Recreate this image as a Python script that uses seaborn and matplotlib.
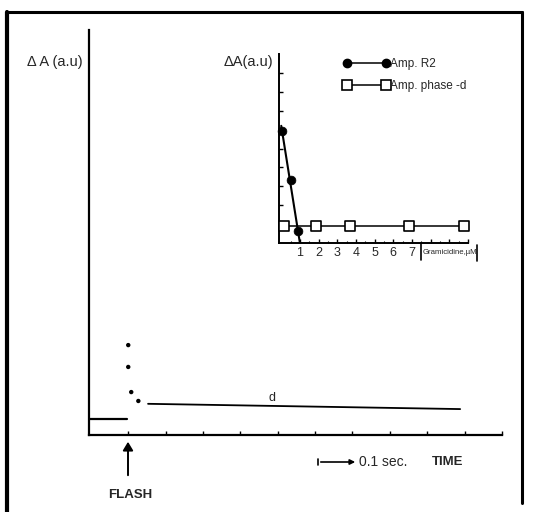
import matplotlib
matplotlib.use("Agg")
import matplotlib.pyplot as plt
import seaborn as sns
import pandas as pd
from matplotlib.lines import Line2D
from matplotlib.patches import FancyArrowPatch

sns.set_theme(style="white")
plt.rcParams['font.family'] = ['Liberation Sans', 'DejaVu Sans']

# ---- Main trace data (time in s after flash, absorbance change in a.u.) ----
base_t = [-0.105, -0.002]
base_a = [0.40, 0.40]
dots_t = [0.0, 0.0, 0.008, 0.027]
dots_a = [2.22, 1.68, 1.06, 0.84]
d_t = [0.053, 0.888]
d_a = [0.77, 0.64]
main_xticks = [0.0, 0.1, 0.2, 0.3, 0.4, 0.5, 0.6, 0.7, 0.8, 0.9, 1.0]

# ---- Inset data (gramicidine concentration, uM) ----
r2_conc = [0.05, 0.52, 0.90]
r2_amp = [5.93, 3.33, 0.63]
r2_fit_conc = [0.0, 1.0]
r2_fit_amp = [6.2, 0.0]
phd_conc = [0.15, 1.85, 3.68, 6.85, 9.8]
phd_amp = [0.9, 0.9, 0.9, 0.9, 0.9]
inset_ticklabels = ["1", "2", "3", "4", "5", "6", "7"]

W, H = 533, 512
fig = plt.figure(figsize=(W / 100, H / 100), dpi=100)

def fx(px):
    return px / W

def fy(py):
    return 1 - py / H

# frame
fig.add_artist(Line2D([fx(7), fx(522)], [fy(12), fy(12)], color="black", lw=2.2))
fig.add_artist(Line2D([fx(7), fx(7)], [fy(12), fy(512)], color="black", lw=3.0))
fig.add_artist(Line2D([fx(522), fx(522)], [fy(12), fy(503)], color="black", lw=2.2))

# ---- main axes ----
ax = fig.add_axes([fx(89), fy(435), fx(502 - 89), (435 - 30) / H])
ax.set_xlim(-0.105, 1.0)
ax.set_ylim(0, 10)
for s in ["top", "right"]:
    ax.spines[s].set_visible(False)
for s in ["left", "bottom"]:
    ax.spines[s].set_color("black")
    ax.spines[s].set_linewidth(1.6)
ax.set_yticks([])
ax.set_xticks(main_xticks)
ax.set_xticklabels([])
ax.tick_params(axis="x", direction="in", length=3, width=1, color="black", bottom=True)
ax.set_facecolor("white")

sns.lineplot(x=base_t, y=base_a, ax=ax, color="black", lw=1.6, sort=False)
sns.lineplot(x=d_t, y=d_a, ax=ax, color="black", lw=1.3, sort=False)
sns.scatterplot(x=dots_t, y=dots_a, ax=ax, color="black", s=10, edgecolor="none")
ax.text(0.385, 0.92, "d", ha="center", va="center", fontsize=9)

fig.text(fx(27), fy(62), "\u0394 A (a.u)", ha="left", va="center", fontsize=10.5)

# FLASH arrow and label
fig.add_artist(FancyArrowPatch(
    (fx(128), fy(478)), (fx(128), fy(439)), transform=fig.transFigure,
    arrowstyle="-|>,head_length=5,head_width=3", color="black", lw=1.4))
fig.text(fx(130), fy(495), "FLASH", ha="center", va="center", fontsize=9.5,
         fontweight="bold")

# scale bar
fig.add_artist(FancyArrowPatch(
    (fx(318), fy(462)), (fx(358), fy(462)), transform=fig.transFigure,
    arrowstyle="-|>,head_length=3,head_width=1.5", color="black", lw=1.2))
fig.add_artist(Line2D([fx(318), fx(318)], [fy(459), fy(465)], color="black", lw=1.2))
fig.text(fx(359), fy(462), "0.1 sec.", ha="left", va="center", fontsize=10)
fig.text(fx(432), fy(462), "TIME", ha="left", va="center", fontsize=9.5, fontweight="bold")

# ---- inset axes ----
ins = fig.add_axes([fx(279), fy(243), fx(468 - 279), (243 - 54) / H])
ins.set_xlim(-0.12, 10.0)
ins.set_ylim(0, 10)
ins.patch.set_alpha(0)
for s in ["top", "right"]:
    ins.spines[s].set_visible(False)
for s in ["left", "bottom"]:
    ins.spines[s].set_color("black")
    ins.spines[s].set_linewidth(1.4)
ins.set_yticks(list(range(1, 10)))
ins.set_yticklabels([])
ins.tick_params(axis="y", direction="in", length=3, width=1, color="black", left=True)
ins.set_xticks(list(range(1, 11)))
ins.set_xticks([i + 0.5 for i in range(0, 10)], minor=True)
ins.set_xticklabels(inset_ticklabels + [""] * 3, fontsize=9)
ins.tick_params(axis="x", which="major", direction="in", length=3, width=1,
                color="black", bottom=True, pad=3)
ins.tick_params(axis="x", which="minor", direction="in", length=1.5, width=0.8,
                color="black", bottom=True)

sns.lineplot(x=r2_fit_conc, y=r2_fit_amp, ax=ins, color="black", lw=1.5, sort=False)
sns.lineplot(x=phd_conc, y=phd_amp, ax=ins, color="black", lw=1.1, sort=False, zorder=2)
sns.scatterplot(x=r2_conc, y=r2_amp, ax=ins, color="black", s=40, edgecolor="black",
                zorder=4, clip_on=False)
sns.scatterplot(x=phd_conc, y=phd_amp, ax=ins, marker="s", s=45, facecolor="white",
                edgecolor="black", linewidth=1.2, zorder=3, clip_on=False)

# legend
h1 = Line2D([], [], color="black", lw=1.1, marker="o", markersize=6,
            markerfacecolor="black", markeredgecolor="black")
h2 = Line2D([], [], color="black", lw=1.1, marker="s", markersize=6.5,
            markerfacecolor="white", markeredgecolor="black", markeredgewidth=1.2)
leg = ins.legend([h1, h2], ["Amp. R2", "Amp. phase -d"], numpoints=2, frameon=False,
                 loc="upper left", bbox_to_anchor=((339 - 279) / (468 - 279), 1.005),
                 handlelength=3.9, handletextpad=0.05, labelspacing=0.9, fontsize=8.5,
                 borderaxespad=0)

fig.text(fx(273), fy(62), "\u0394A(a.u)", ha="right", va="center", fontsize=10.5)

# gramicidine label with bracket
fig.add_artist(Line2D([fx(421), fx(421)], [fy(243), fy(260)], color="black", lw=1.2))
fig.text(fx(423), fy(253), "Gramicidine,\u00b5M", ha="left", va="center", fontsize=5.6)
fig.add_artist(Line2D([fx(477), fx(477)], [fy(245), fy(261)], color="black", lw=1.2))

fig.savefig("out.png", dpi=100, facecolor="white")
